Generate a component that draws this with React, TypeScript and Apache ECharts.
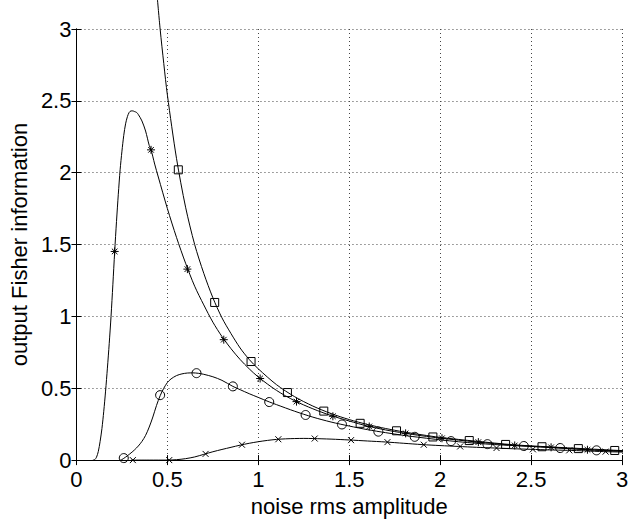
import React, { useEffect, useRef } from "react";
import * as echarts from "echarts";

// ---- data ----
const xTicks = [0, 0.5, 1, 1.5, 2, 2.5, 3];
const yTicks = [0, 0.5, 1, 1.5, 2, 2.5, 3];

// square curve (smooth line)
const sqLineX = [0.445, 0.46, 0.48, 0.5, 0.55, 0.6, 0.65, 0.7, 0.75, 0.8, 0.85, 0.9, 0.95, 1.0, 1.1, 1.2, 1.3, 1.4, 1.5, 1.6, 1.7, 1.8, 1.9, 2.0, 2.2, 2.4, 2.6, 2.8, 3.0, 3.05];
const sqLineY = [3.21, 3.0, 2.76, 2.54, 2.1, 1.76, 1.5, 1.3, 1.13, 0.99, 0.88, 0.78, 0.7, 0.635, 0.525, 0.441, 0.376, 0.324, 0.282, 0.248, 0.22, 0.196, 0.176, 0.158, 0.131, 0.107, 0.092, 0.079, 0.066, 0.064];
const sqMarkX = [0.56, 0.76, 0.96, 1.16, 1.36, 1.56, 1.76, 1.96, 2.16, 2.36, 2.56, 2.76, 2.96];
const sqMarkY = [2.02, 1.097, 0.686, 0.47, 0.341, 0.256, 0.204, 0.161, 0.136, 0.109, 0.093, 0.08, 0.067];

// asterisk curve
const stLineX = [0.09, 0.1, 0.11, 0.12, 0.13, 0.14, 0.15, 0.16, 0.17, 0.18, 0.19, 0.2, 0.21, 0.22, 0.23, 0.24, 0.25, 0.26, 0.27, 0.28, 0.29, 0.3, 0.31, 0.32, 0.33, 0.34, 0.36, 0.38, 0.4, 0.41, 0.43, 0.45, 0.5, 0.55, 0.6, 0.65, 0.7, 0.75, 0.8, 0.85, 0.9, 0.95, 1.0, 1.1, 1.2, 1.3, 1.4, 1.5, 1.6, 1.7, 1.8, 1.9, 2.0, 2.2, 2.4, 2.6, 2.8, 3.0, 3.05];
const stLineY = [0.0, 0.003, 0.02, 0.06, 0.13, 0.22, 0.34, 0.48, 0.64, 0.81, 1.0, 1.22, 1.45, 1.66, 1.85, 2.02, 2.15, 2.26, 2.34, 2.39, 2.42, 2.43, 2.43, 2.425, 2.42, 2.405, 2.36, 2.29, 2.19, 2.16, 2.06, 1.97, 1.75, 1.55, 1.37, 1.21, 1.08, 0.96, 0.86, 0.775, 0.7, 0.635, 0.578, 0.485, 0.413, 0.357, 0.31, 0.272, 0.237, 0.21, 0.188, 0.169, 0.153, 0.126, 0.104, 0.089, 0.073, 0.063, 0.061];
const stMarkX = [0.21, 0.41, 0.61, 0.81, 1.01, 1.21, 1.41, 1.61, 1.81, 2.01, 2.21, 2.41, 2.61, 2.81];
const stMarkY = [1.452, 2.159, 1.329, 0.838, 0.568, 0.407, 0.305, 0.234, 0.186, 0.152, 0.125, 0.102, 0.089, 0.072];

// circle curve
const ciLineX = [0.24, 0.25, 0.26, 0.28, 0.3, 0.32, 0.34, 0.36, 0.38, 0.4, 0.42, 0.44, 0.46, 0.48, 0.5, 0.52, 0.55, 0.58, 0.61, 0.64, 0.67, 0.7, 0.75, 0.8, 0.86, 0.9, 0.95, 1.0, 1.06, 1.1, 1.2, 1.3, 1.4, 1.5, 1.6, 1.7, 1.8, 1.9, 2.0, 2.1, 2.2, 2.3, 2.4, 2.5, 2.6, 2.7, 2.8, 2.9, 3.0, 3.05];
const ciLineY = [0.0, 0.004, 0.012, 0.03, 0.05, 0.072, 0.098, 0.13, 0.172, 0.23, 0.3, 0.38, 0.448, 0.5, 0.54, 0.565, 0.588, 0.6, 0.606, 0.607, 0.604, 0.597, 0.58, 0.555, 0.513, 0.49, 0.462, 0.436, 0.405, 0.386, 0.34, 0.299, 0.265, 0.237, 0.212, 0.191, 0.172, 0.156, 0.141, 0.128, 0.117, 0.108, 0.101, 0.095, 0.088, 0.081, 0.073, 0.066, 0.062, 0.06];
const ciMarkX = [0.26, 0.46, 0.66, 0.86, 1.06, 1.26, 1.46, 1.66, 1.86, 2.06, 2.26, 2.46, 2.66, 2.86];
const ciMarkY = [0.014, 0.452, 0.605, 0.513, 0.404, 0.314, 0.248, 0.198, 0.162, 0.132, 0.111, 0.098, 0.084, 0.068];

// cross curve
const xxLineX = [0.3, 0.4, 0.5, 0.55, 0.6, 0.65, 0.7, 0.75, 0.8, 0.85, 0.9, 0.95, 1.0, 1.05, 1.1, 1.15, 1.2, 1.25, 1.3, 1.4, 1.5, 1.6, 1.7, 1.8, 1.9, 2.0, 2.1, 2.2, 2.3, 2.4, 2.5, 2.6, 2.7, 2.8, 2.9, 3.0, 3.05];
const xxLineY = [0, 0, 0, 0.003, 0.01, 0.022, 0.04, 0.058, 0.074, 0.089, 0.104, 0.117, 0.128, 0.137, 0.144, 0.148, 0.15, 0.151, 0.15, 0.146, 0.14, 0.133, 0.126, 0.117, 0.108, 0.101, 0.095, 0.089, 0.084, 0.079, 0.075, 0.071, 0.068, 0.064, 0.059, 0.056, 0.054];
const xxMarkX = [0.31, 0.51, 0.71, 0.91, 1.11, 1.31, 1.51, 1.71, 1.91, 2.11, 2.31, 2.51, 2.71, 2.91];
const xxMarkY = [0, 0, 0.043, 0.107, 0.145, 0.15, 0.139, 0.125, 0.107, 0.095, 0.084, 0.075, 0.068, 0.059];

const zip = (xs: number[], ys: number[]) => xs.map((x, i) => [x, ys[i]]);

const FONT = "Liberation Sans";
const ASTERISK = "path://M0,-1L0,1M-1,0L1,0M-0.7,-0.7L0.7,0.7M-0.7,0.7L0.7,-0.7";
const CROSS = "path://M-1,-1L1,1M-1,1L1,-1";

export default function App() {
  const ref = useRef<HTMLDivElement>(null);
  useEffect(() => {
    if (!ref.current) return;
    const chart = echarts.init(ref.current, null, { renderer: "svg" });
    const lineSeries = (data: number[][]) => ({
      type: "line",
      data,
      showSymbol: false,
      symbol: "none",
      smooth: 0.3,
      clip: false,
      lineStyle: { color: "#000", width: 1 },
      silent: true,
      z: 3,
    });
    const markSeries = (data: number[][], symbol: string, size: number) => ({
      type: "scatter",
      data,
      symbol,
      symbolSize: size,
      clip: false,
      itemStyle: { color: "none", borderColor: "#000", borderWidth: 1, opacity: 1 },
      silent: true,
      z: 4,
    });
    const baseAxis = {
      type: "value",
      min: 0,
      max: 3,
      interval: 0.5,
    };
    chart.setOption({
      animation: false,
      backgroundColor: "#fff",
      grid: { left: 65, right: 11, top: 29, bottom: 53, containLabel: false },
      xAxis: [
        {
          ...baseAxis,
          position: "bottom",
          name: "noise rms amplitude",
          nameLocation: "middle",
          nameGap: 30,
          nameTextStyle: { color: "#000", fontFamily: FONT, fontSize: 22 },
          axisLine: { show: true, lineStyle: { color: "#000", width: 1 } },
          axisTick: { show: true, inside: true, length: 5, lineStyle: { color: "#000" } },
          axisLabel: {
            color: "#000",
            fontFamily: FONT,
            fontSize: 22,
            margin: 8,
            customValues: xTicks,
            formatter: (v: number) => String(v),
          },
          splitLine: { show: true, lineStyle: { color: "#444", type: [1, 3], width: 1 } },
        },
        {
          ...baseAxis,
          position: "top",
          axisLine: { show: true, lineStyle: { color: "#000", width: 1 } },
          axisTick: { show: true, inside: true, length: 5, lineStyle: { color: "#000" } },
          axisLabel: { show: false },
          splitLine: { show: false },
        },
      ],
      yAxis: [
        {
          ...baseAxis,
          position: "left",
          name: "output Fisher information",
          nameLocation: "middle",
          nameGap: 38,
          nameRotate: 90,
          nameTextStyle: { color: "#000", fontFamily: FONT, fontSize: 22 },
          axisLine: { show: true, lineStyle: { color: "#000", width: 1 } },
          axisTick: { show: true, inside: true, length: 5, lineStyle: { color: "#000" } },
          axisLabel: {
            color: "#000",
            fontFamily: FONT,
            fontSize: 22,
            margin: 5,
            customValues: yTicks,
            formatter: (v: number) => String(v),
          },
          splitLine: { show: true, lineStyle: { color: "#444", type: [1, 3], width: 1 } },
        },
        {
          ...baseAxis,
          position: "right",
          axisLine: { show: true, lineStyle: { color: "#000", width: 1 } },
          axisTick: { show: true, inside: true, length: 5, lineStyle: { color: "#000" } },
          axisLabel: { show: false },
          splitLine: { show: false },
        },
      ],
      series: [
        lineSeries(zip(sqLineX, sqLineY)),
        lineSeries(zip(stLineX, stLineY)),
        lineSeries(zip(ciLineX, ciLineY)),
        lineSeries(zip(xxLineX, xxLineY)),
        markSeries(zip(sqMarkX, sqMarkY), "rect", 8),
        markSeries(zip(stMarkX, stMarkY), ASTERISK, 8),
        markSeries(zip(ciMarkX, ciMarkY), "circle", 9),
        markSeries(zip(xxMarkX, xxMarkY), CROSS, 6),
      ],
    });
    return () => chart.dispose();
  }, []);
  return (
    <div
      ref={ref}
      style={{ position: "fixed", left: 0, top: 0, width: 633, height: 522, background: "#fff" }}
    />
  );
}
